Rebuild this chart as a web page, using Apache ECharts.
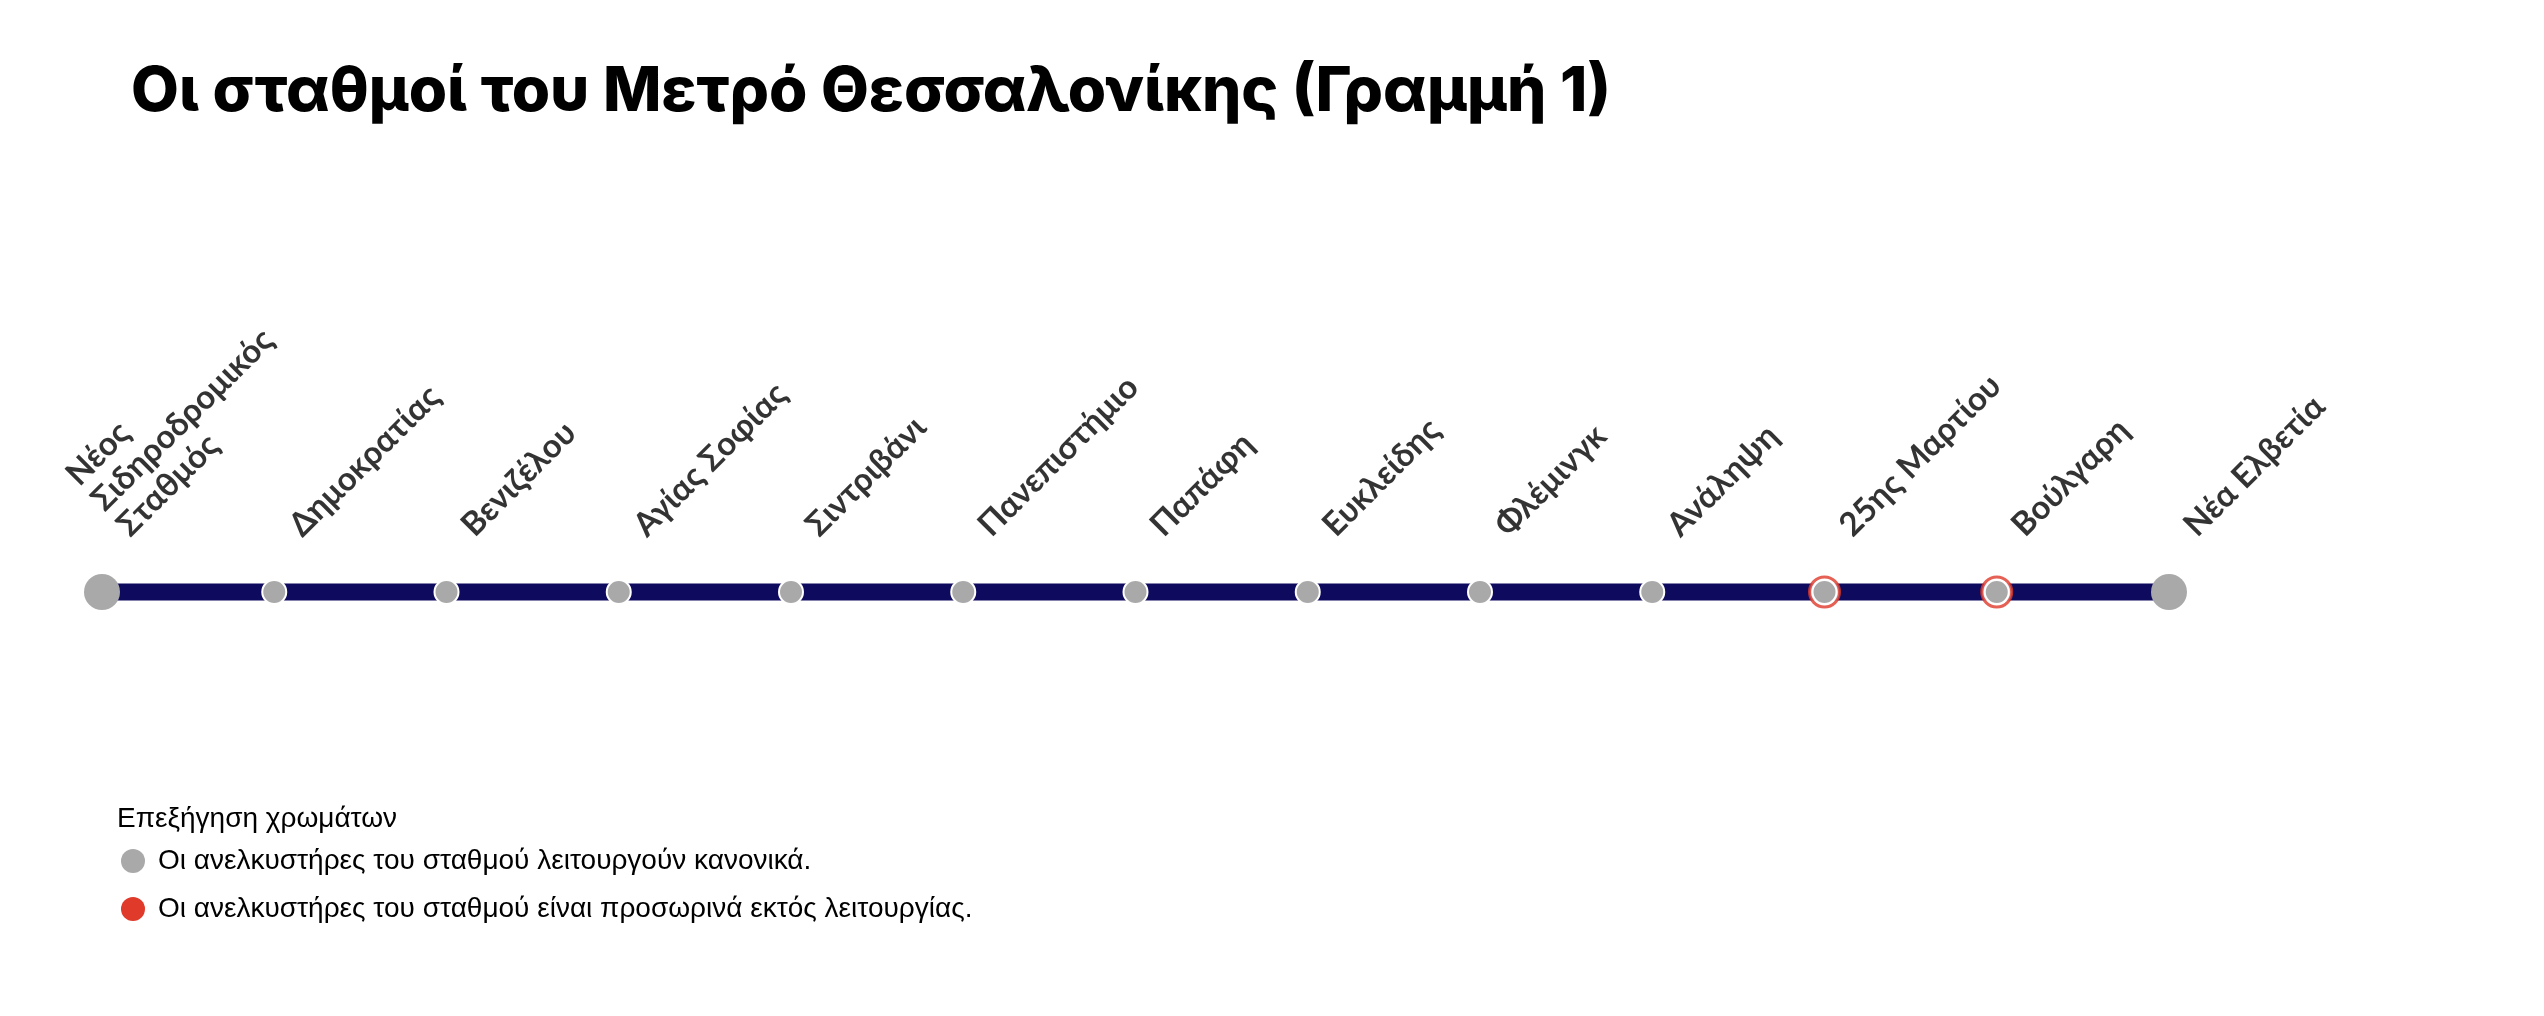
<!DOCTYPE html>
<html><head><meta charset="utf-8">
<script src="https://cdn.jsdelivr.net/npm/echarts@6/dist/echarts.min.js"></script>
<style>html,body{margin:0;background:#fff}#c{width:2544px;height:1016px}</style>
</head><body><div id="c"></div>
<script>
const stations = ["Νέος\nΣιδηροδρομικός\nΣταθμός","Δημοκρατίας","Βενιζέλου","Αγίας Σοφίας","Σιντριβάνι","Πανεπιστήμιο","Παπάφη","Ευκλείδης","Φλέμινγκ","Ανάληψη","25ης Μαρτίου","Βούλγαρη","Νέα Ελβετία"];
const lineValues = [0,0,0,0,0,0,0,0,0,0,0,0,0];
const outOfService = [false,false,false,false,false,false,false,false,false,false,true,true,false];
const legendItems = ["Οι ανελκυστήρες του σταθμού λειτουργούν κανονικά.","Οι ανελκυστήρες του σταθμού είναι προσωρινά εκτός λειτουργίας."];

const GRAY='#a9a9a9', RED='#e03a2b', NAVY='#0e0b5e';
const last = stations.length-1;
const lineData = lineValues.map((v,i)=>({
  value:v,
  symbolSize:(i===0||i===last)?36:24,
  itemStyle:{color:GRAY,borderColor:'#fff',borderWidth:(i===0||i===last)?0:2}
}));
const ringData = lineValues.map((v,i)=> outOfService[i]? v : null);

const chart = echarts.init(document.getElementById('c'));
chart.setOption({
  animation:false,
  title:[
    {text:'Οι σταθμοί του Μετρό Θεσσαλονίκης (Γραμμή 1)',left:126,top:56,
     textStyle:{fontFamily:'Inter',fontWeight:800,fontSize:62,color:'#000'}},
    {text:'Επεξήγηση χρωμάτων',left:112,top:800,
     textStyle:{fontFamily:'Liberation Sans',fontWeight:'normal',fontSize:28,color:'#000'}}
  ],
  legend:{orient:'vertical',left:116,top:842,itemGap:20,icon:'circle',itemWidth:24,itemHeight:24,
    inactiveColor:GRAY,
    textStyle:{fontFamily:'Liberation Sans',fontSize:28,color:'#000',padding:[0,0,0,8]},
    data:[{name:legendItems[0],itemStyle:{color:GRAY,opacity:1}},{name:legendItems[1],itemStyle:{color:RED,opacity:1}}]},
  grid:{left:102,right:375,top:392,bottom:224},
  xAxis:{type:'category',data:stations,boundaryGap:false,show:false},
  yAxis:{type:'value',min:-1,max:1,show:false},
  series:[
    {type:'line',data:lineValues,symbol:'none',lineStyle:{color:NAVY,width:17},z:1},
    {type:'scatter',data:ringData,symbolSize:30,itemStyle:{color:'#fff',borderColor:RED,borderWidth:3},z:2,silent:true},
    {type:'line',data:lineData,symbol:'circle',showAllSymbol:true,lineStyle:{width:0,opacity:0},z:3},
    {type:'scatter',data:lineValues,symbolSize:1,itemStyle:{color:'rgba(0,0,0,0)'},z:4,silent:true,
     label:{show:true,position:[34,-48],rotate:45,align:'left',verticalAlign:'bottom',
       formatter:p=>stations[p.dataIndex],
       fontFamily:'Lato',fontWeight:'bold',fontSize:33,lineHeight:36,color:'#000'}},
    {type:'scatter',name:legendItems[0],data:[],itemStyle:{color:GRAY}},
    {type:'scatter',name:legendItems[1],data:[],itemStyle:{color:RED}}
  ]
});
</script></body></html>
